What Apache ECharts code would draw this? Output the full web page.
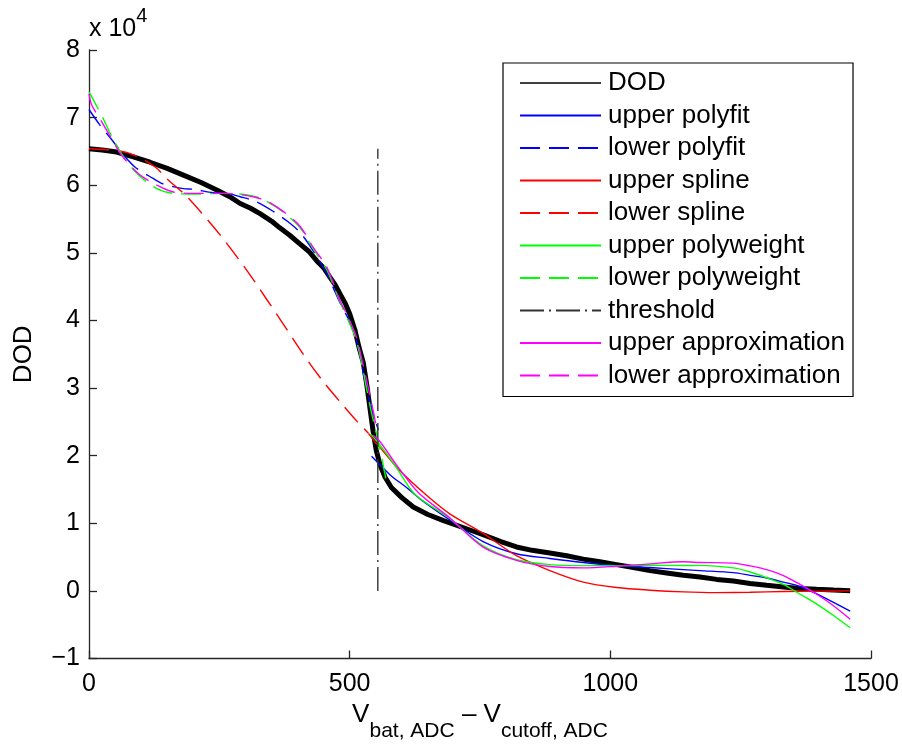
<!DOCTYPE html>
<html>
<head>
<meta charset="utf-8">
<script src="https://cdn.jsdelivr.net/npm/echarts@6/dist/echarts.min.js"></script>
<style>
  html, body { margin: 0; padding: 0; background: #ffffff; }
  #chart { width: 902px; height: 747px; }
</style>
</head>
<body>
<div id="chart"></div>
<script>
// Depth of discharge versus battery voltage above cutoff (ADC counts)
const FONT = '"Liberation Sans", Arial, Helvetica, sans-serif';

const xTicks = [0, 500, 1000, 1500];
const yTicks = [-10000, 0, 10000, 20000, 30000, 40000, 50000, 60000, 70000, 80000];

const seriesNames = [
  'DOD', 'upper polyfit', 'lower polyfit', 'upper spline', 'lower spline',
  'upper polyweight', 'lower polyweight', 'threshold',
  'upper approximation', 'lower approximation'
];

// measured DOD curve
const dod = [
  [0, 65400], [25, 65200], [53, 64900], [85, 64200], [117, 63400], [150, 62500],
  [181, 61500], [215, 60400], [245, 59300], [270, 58300], [290, 57300], [310, 56600],
  [328, 55800], [350, 54700], [366, 53700], [385, 52600], [405, 51300], [422, 50200],
  [437, 48800], [450, 47800], [462, 46400], [472, 45300], [481, 44000], [491, 42600],
  [500, 41000], [510, 38600], [518, 36000], [526, 33800], [533, 30400], [539, 27000],
  [545, 23600], [551, 20800], [558, 18700], [568, 16800], [580, 15300], [600, 13800],
  [622, 12400], [650, 11300], [680, 10400], [720, 9300], [756, 8300], [790, 7300],
  [820, 6500], [850, 6000], [884, 5600], [916, 5200], [948, 4700], [980, 4300],
  [1012, 3880], [1044, 3450], [1076, 3000], [1108, 2650], [1140, 2300], [1172, 2050],
  [1204, 1700], [1236, 1450], [1268, 1100], [1300, 820], [1332, 580], [1364, 350],
  [1396, 230], [1428, 120], [1460, 30]
];

// fits on the high-voltage side of the threshold
const upperPolyfit = [
  [542, 19900], [560, 18500], [580, 17000], [609, 15300], [640, 13300], [692, 10500],
  [756, 7300], [820, 5500], [884, 4800], [948, 4200], [1012, 3750], [1076, 3450],
  [1140, 3150], [1172, 3000], [1236, 2700], [1268, 2300], [1300, 1900], [1332, 1300],
  [1364, 650], [1396, -450], [1428, -1700], [1460, -3000]
];
const upperSpline = [
  [536, 23300], [550, 21900], [564, 20700], [596, 17800], [648, 14100], [692, 11400],
  [756, 8500], [820, 5200], [884, 3000], [948, 1300], [1012, 500], [1076, 100],
  [1140, -150], [1204, -250], [1268, -200], [1332, -100], [1400, -30], [1460, 0]
];
const upperPolyweight = [
  [540, 23200], [558, 21600], [590, 18200], [625, 14300], [692, 10700], [756, 6650],
  [820, 4600], [884, 3880], [948, 3730], [1012, 3730], [1076, 3800], [1140, 3750],
  [1172, 3780], [1236, 3400], [1268, 2800], [1300, 1940], [1332, 960], [1364, -500],
  [1396, -1950], [1428, -3640], [1460, -5450]
];
const upperApprox = [
  [545, 23000], [558, 22100], [590, 18600], [632, 14500], [692, 10800], [756, 6460],
  [820, 4520], [884, 3600], [948, 3400], [1012, 3640], [1076, 4000], [1140, 4300],
  [1172, 4200], [1236, 4100], [1268, 3700], [1300, 3150], [1332, 2270], [1364, 960],
  [1396, -500], [1428, -2200], [1460, -4200]
];

// fits on the low-voltage side of the threshold
const lowerPolyfit = [
  [0, 71200], [20, 69000], [43, 66800], [65, 64600], [88, 62700], [123, 61000],
  [142, 60200], [181, 59500], [200, 59400], [238, 58900], [264, 58800], [290, 58300],
  [320, 57600], [354, 56100], [380, 54700], [405, 53000], [430, 50300], [456, 46900],
  [481, 42700], [500, 39800], [516, 36200], [526, 32300], [540, 27500], [555, 23800]
];
const lowerSpline = [
  [0, 65400], [56, 65100], [88, 64400], [127, 62700], [149, 61000], [184, 58600],
  [216, 55900], [254, 52400], [300, 47700], [341, 43100], [380, 38600], [420, 34000],
  [453, 30600], [490, 27200], [515, 25000], [536, 23300]
];
const lowerPolyweight = [
  [0, 73800], [25, 70200], [47, 66700], [70, 63800], [95, 61500], [130, 59500],
  [162, 58800], [203, 58700], [261, 58800], [290, 58700], [328, 58100], [373, 56000],
  [405, 53700], [430, 50600], [456, 47500], [481, 42800], [500, 39500], [513, 37000],
  [526, 32500], [540, 27000], [555, 22100], [571, 16000]
];
const lowerApprox = [
  [0, 73500], [5, 71900], [25, 69300], [47, 66400], [63, 64400], [95, 61700],
  [130, 60000], [162, 59000], [203, 58800], [261, 58800], [290, 58600], [315, 58300],
  [340, 57700], [373, 56100], [405, 53900], [430, 50800], [456, 47900], [481, 43000],
  [494, 41000], [513, 37500], [526, 33300], [540, 28500], [552, 24000]
];

const threshold = [[554, 0], [554, 65400]];

const seriesData = [
  dod, upperPolyfit, lowerPolyfit, upperSpline, lowerSpline,
  upperPolyweight, lowerPolyweight, threshold, upperApprox, lowerApprox
];
const seriesColors = [
  '#000000', '#0000ff', '#0000ff', '#ff0000', '#ff0000',
  '#00ff00', '#00ff00', '#333333', '#ff00ff', '#ff00ff'
];
const DASH = [20, 9];
const DASH_DOT = [24, 5, 2, 5];
const seriesDash = ['solid', 'solid', DASH, 'solid', DASH, 'solid', DASH, DASH_DOT, 'solid', DASH];

const fmtY = v => String(v / 10000).replace('-', '\u2212');
const fmtX = v => String(v);

const series = seriesNames.map((name, i) => ({
  name: name,
  type: 'line',
  data: seriesData[i],
  symbol: 'none',
  smooth: i === 0 ? false : 0.3,
  animation: false,
  lineStyle: {
    color: seriesColors[i],
    width: i === 0 ? 5 : 1.4,
    type: seriesDash[i]
  },
  itemStyle: { color: seriesColors[i] }
}));

const chart = echarts.init(document.getElementById('chart'), null, { renderer: 'canvas' });

chart.setOption({
  backgroundColor: '#ffffff',
  animation: false,
  textStyle: { fontFamily: FONT },
  grid: { left: 89, right: 31, top: 50, bottom: 80, containLabel: false },
  xAxis: {
    type: 'value',
    min: xTicks[0],
    max: xTicks[xTicks.length - 1],
    interval: xTicks[1] - xTicks[0],
    axisLine: { show: true, onZero: false, lineStyle: { color: '#262626', width: 1.3 } },
    axisTick: { show: true, inside: true, length: 8, lineStyle: { color: '#262626', width: 1.3 } },
    splitLine: { show: false },
    axisLabel: { fontFamily: FONT, fontSize: 25, color: '#000', margin: 13, formatter: fmtX },
    name: '{a|V}{b|bat, ADC}{a|\u00a0\u2013\u00a0V}{b|cutoff, ADC}',
    nameLocation: 'middle',
    nameGap: 42,
    nameTextStyle: {
      fontFamily: FONT,
      color: '#000',
      rich: {
        a: { fontFamily: FONT, fontSize: 26, color: '#000', height: 28, verticalAlign: 'top' },
        b: { fontFamily: FONT, fontSize: 21, color: '#000', height: 22, padding: [20, 0, 0, 0], verticalAlign: 'top' }
      }
    }
  },
  yAxis: {
    type: 'value',
    min: yTicks[0],
    max: yTicks[yTicks.length - 1],
    interval: yTicks[1] - yTicks[0],
    axisLine: { show: true, onZero: false, lineStyle: { color: '#262626', width: 1.3 } },
    axisTick: { show: true, inside: true, length: 8, lineStyle: { color: '#262626', width: 1.3 } },
    splitLine: { show: false },
    axisLabel: { fontFamily: FONT, fontSize: 25, color: '#000', margin: 9, formatter: fmtY },
    name: 'DOD',
    nameLocation: 'middle',
    nameGap: 52,
    nameTextStyle: { fontFamily: FONT, fontSize: 26, color: '#000' }
  },
  legend: {
    orient: 'vertical',
    left: 503,
    top: 63,
    padding: [7, 8, 8, 16],
    itemWidth: 81,
    itemHeight: 14,
    itemGap: 6.5,
    backgroundColor: '#ffffff',
    borderColor: '#000000',
    borderWidth: 1.2,
    borderRadius: 0,
    itemStyle: { opacity: 0 },
    textStyle: { fontFamily: FONT, fontSize: 26, color: '#000', lineHeight: 26, padding: [0, 0, 0, 2] },
    data: seriesNames.map((n, i) => (i === 0 ? { name: n, lineStyle: { width: 1.4 } } : { name: n })),
    selectedMode: false
  },
  graphic: [{
    type: 'text',
    left: 89,
    top: 6,
    style: {
      text: '{a|x 10}{b|4}',
      fill: '#000',
      font: '25px ' + FONT,
      rich: {
        a: { fontFamily: FONT, fontSize: 25, fill: '#000', height: 26, padding: [10, 0, 0, 0], verticalAlign: 'top' },
        b: { fontFamily: FONT, fontSize: 20, fill: '#000', height: 20, verticalAlign: 'top' }
      }
    }
  }],
  series: series
});
</script>
</body>
</html>
